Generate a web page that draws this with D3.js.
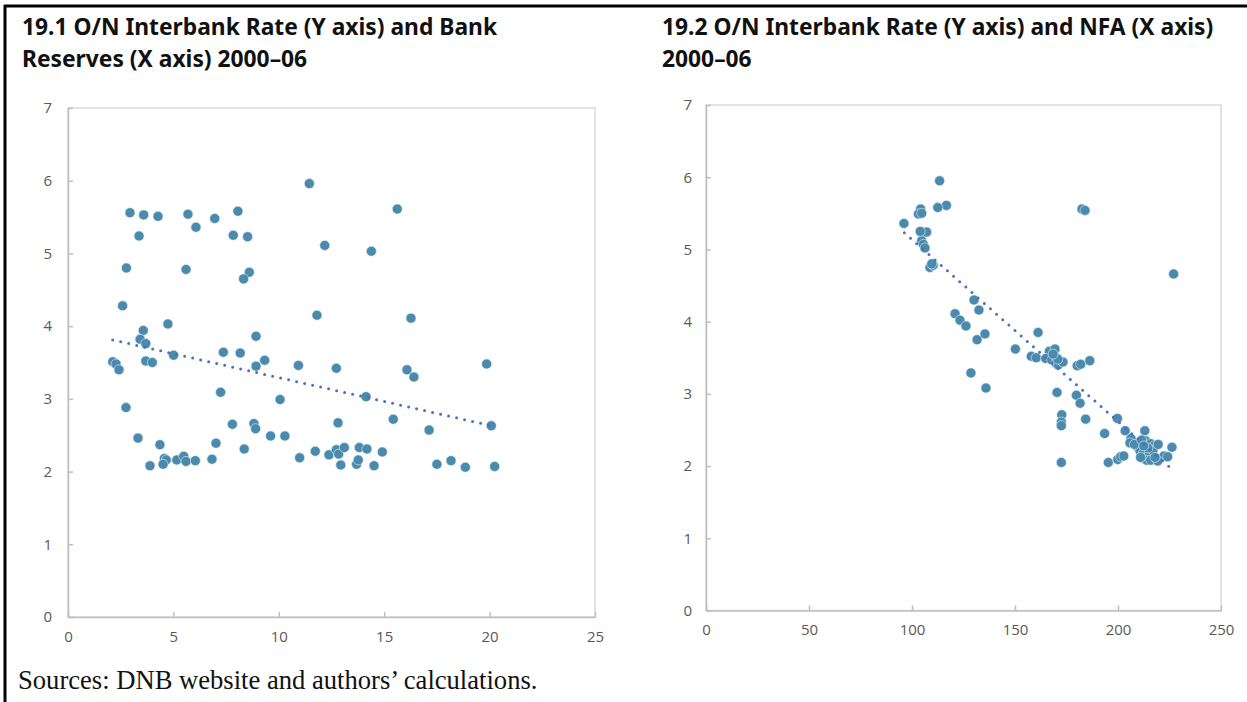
<!DOCTYPE html>
<html lang='en'>
	<head>
		<meta charset="utf-8">
		<title>Figure 19</title>
		<script type="text/javascript" src="https://cdn.jsdelivr.net/npm/d3@7"></script>
		<style>
			body { margin: 0; background: #fff; }
			.tick text { font-family: "Open Sans", sans-serif; font-size: 15px; fill: #595959; }
		</style>
	</head>
	<body>
		<div id="chart"></div>
		<script type="text/javascript">
			// left panel: bank reserves (x) vs O/N rate (y)
			var leftX = [11.45, 2.94, 3.59, 4.27, 5.69, 6.96, 8.06, 6.07, 3.37, 7.84, 8.52, 12.18,
				2.77, 5.60, 8.60, 8.33, 2.59, 11.81, 4.74, 3.57, 3.42, 3.69, 8.92, 5.01, 7.37, 8.17,
				2.12, 2.28, 2.42, 3.69, 4.00, 8.92, 9.33, 10.93, 12.73, 7.24, 2.75, 10.06, 7.80, 8.82,
				8.90, 12.81, 3.32, 9.61, 10.29, 4.36, 7.02, 8.36, 4.57, 4.66, 4.51, 3.89, 5.16, 5.49,
				5.60, 6.04, 6.83, 10.99, 11.73, 12.38, 12.73, 12.84, 13.11, 12.94, 13.82, 13.69, 13.77,
				14.18, 14.91, 14.52, 15.62, 14.39, 16.27, 19.86, 16.08, 16.41, 14.14, 15.43, 20.08,
				17.13, 17.50, 18.17, 18.85, 20.24];
			var leftY = [5.96, 5.56, 5.53, 5.51, 5.54, 5.48, 5.58, 5.36, 5.24, 5.25, 5.23, 5.11,
				4.80, 4.78, 4.74, 4.65, 4.28, 4.15, 4.03, 3.94, 3.82, 3.76, 3.86, 3.60, 3.64, 3.63,
				3.51, 3.48, 3.40, 3.52, 3.50, 3.45, 3.53, 3.46, 3.42, 3.09, 2.88, 2.99, 2.65, 2.66,
				2.59, 2.67, 2.46, 2.49, 2.49, 2.37, 2.39, 2.31, 2.18, 2.16, 2.10, 2.08, 2.16, 2.21,
				2.14, 2.15, 2.17, 2.19, 2.28, 2.23, 2.30, 2.24, 2.33, 2.09, 2.33, 2.10, 2.16,
				2.31, 2.27, 2.08, 5.61, 5.03, 4.11, 3.48, 3.40, 3.30, 3.03, 2.72, 2.63,
				2.57, 2.10, 2.15, 2.06, 2.07];

			// right panel: NFA (x) vs O/N rate (y)
			var rightX = [113.4, 116.7, 112.5, 104.2, 103.1, 104.7, 96.1, 105.0, 107.1, 104.7, 105.5,
				106.3, 108.7, 110.3, 109.6, 120.9, 123.3, 126.2, 130.1, 132.5, 135.4, 131.6, 128.6, 135.9,
				182.5, 184.0, 227.0, 161.2, 150.2, 157.9, 160.3, 166.7, 169.4, 164.9, 167.8, 170.2, 169.9,
				171.0, 173.3, 180.2, 181.9, 186.3, 170.4, 179.8, 181.6, 172.7, 172.5, 172.5, 184.3, 172.5,
				193.5, 199.7, 203.5, 213.0, 206.3, 205.8, 213.4, 215.9, 217.6, 226.2, 209.6, 210.7, 212.3,
				215.2, 222.3, 224.1, 213.9, 215.9, 219.3, 195.3, 199.9, 201.3, 202.8, 208.0, 211.0, 217.0,
				219.5, 214.5, 211.5, 218.0, 104.0, 170.8, 168.5, 212.5];
			var rightY = [5.95, 5.61, 5.58, 5.56, 5.49, 5.50, 5.36, 5.22, 5.24, 5.12, 5.07,
				5.02, 4.75, 4.78, 4.80, 4.11, 4.02, 3.94, 4.30, 4.16, 3.83, 3.75, 3.29, 3.08,
				5.56, 5.54, 4.66, 3.85, 3.62, 3.52, 3.50, 3.59, 3.62, 3.49, 3.47, 3.50, 3.42,
				3.40, 3.44, 3.39, 3.41, 3.46, 3.02, 2.98, 2.87, 2.71, 2.61, 2.56, 2.65, 2.05,
				2.45, 2.66, 2.49, 2.49, 2.38, 2.32, 2.35, 2.31, 2.28, 2.26, 2.26, 2.21, 2.18,
				2.19, 2.14, 2.13, 2.08, 2.08, 2.07, 2.05, 2.09, 2.13, 2.14, 2.30, 2.12, 2.22,
				2.30, 2.25, 2.36, 2.12, 5.25, 3.48, 3.55, 2.28];

			// linear trend end points
			var leftTrendX = [2.12, 20.24];
			var leftTrendY = [3.81, 2.62];
			var rightTrendX = [96.3, 225.7];
			var rightTrendY = [5.23, 1.97];

			var leftXTicks = [0, 5, 10, 15, 20, 25];
			var rightXTicks = [0, 50, 100, 150, 200, 250];
			var yTicks = [0, 1, 2, 3, 4, 5, 6, 7];

			var leftTitle = ["19.1 O/N Interbank Rate (Y axis) and Bank", "Reserves (X axis) 2000\u201306"];
			var rightTitle = ["19.2 O/N Interbank Rate (Y axis) and NFA (X axis)", "2000\u201306"];
			var source = "Sources: DNB website and authors\u2019 calculations.";

			var w = 1247;
			var h = 702;
			var dotColor = "#4a8aad";
			var trendColor = "#4472c4";

			var svg = d3.select("#chart").append("svg").attr("width", w).attr("height", h);

			// page frame (black rules top and left)
			svg.append("line")
				.attr("x1", 4).attr("y1", 6).attr("x2", w).attr("y2", 6)
				.attr("stroke", "black").attr("stroke-width", 3);
			svg.append("line")
				.attr("x1", 5).attr("y1", 5).attr("x2", 5).attr("y2", h)
				.attr("stroke", "black").attr("stroke-width", 3);

			var drawPanel = function(cfg) {
				var xScale = d3.scaleLinear().domain(cfg.xDomain).range(cfg.xRange);
				var yScale = d3.scaleLinear().domain([0, 7]).range(cfg.yRange);
				var g = svg.append("g");

				g.selectAll(".title")
					.data(cfg.title)
					.enter()
					.append("text")
					.attr("x", cfg.titleX)
					.attr("y", function(d, i) { return 35 + i * 32; })
					.attr("font-family", "'Noto Sans', sans-serif")
					.attr("font-weight", "bold")
					.attr("font-size", "22.8px")
					.attr("fill", "#111")
					.text(function(d) { return d; });

				// plot area box
				g.append("rect")
					.attr("x", cfg.xRange[0])
					.attr("y", cfg.yRange[1])
					.attr("width", cfg.xRange[1] - cfg.xRange[0])
					.attr("height", cfg.yRange[0] - cfg.yRange[1])
					.attr("fill", "none")
					.attr("stroke", "#d9d9d9")
					.attr("stroke-width", 1.5);

				var xAxis = d3.axisBottom(xScale).tickValues(cfg.xTicks).tickSizeInner(-5).tickSizeOuter(0).tickPadding(14);
				var yAxis = d3.axisLeft(yScale).tickValues(yTicks).tickFormat(d3.format("d"))
					.tickSizeInner(-5).tickSizeOuter(0).tickPadding(cfg.yPad);

				var gx = g.append("g")
					.attr("transform", "translate(0," + cfg.yRange[0] + ")")
					.call(xAxis);
				var gy = g.append("g")
					.attr("transform", "translate(" + cfg.xRange[0] + ",0)")
					.call(yAxis);
				gx.selectAll("path, line").attr("stroke", "#bfbfbf").attr("stroke-width", 1.5);
				gy.selectAll("path, line").attr("stroke", "#bfbfbf").attr("stroke-width", 1.5);
				gx.selectAll("text").attr("dy", "0.71em");

				g.selectAll(".dot")
					.data(cfg.xs)
					.enter()
					.append("circle")
					.attr("cx", function(d) { return xScale(d); })
					.attr("cy", function(d, i) { return yScale(cfg.ys[i]); })
					.attr("r", 5)
					.attr("fill", dotColor)
					.attr("stroke", "#e8f0f5")
					.attr("stroke-width", 0.6);

				var line = d3.line()
					.x(function(d) { return xScale(d[0]); })
					.y(function(d) { return yScale(d[1]); });

				g.append("path")
					.datum(d3.zip(cfg.trendX, cfg.trendY))
					.attr("d", line)
					.attr("fill", "none")
					.attr("stroke", trendColor)
					.attr("stroke-width", 3)
					.attr("stroke-linecap", "round")
					.attr("stroke-dasharray", "0 8.2");
			};

			drawPanel({
				title: leftTitle, titleX: 22,
				xDomain: [0, 25], xRange: [68, 595], yRange: [617, 108],
				xTicks: leftXTicks, yPad: 16,
				xs: leftX, ys: leftY, trendX: leftTrendX, trendY: leftTrendY
			});

			drawPanel({
				title: rightTitle, titleX: 662,
				xDomain: [0, 250], xRange: [706, 1221], yRange: [610.5, 105],
				xTicks: rightXTicks, yPad: 14,
				xs: rightX, ys: rightY, trendX: rightTrendX, trendY: rightTrendY
			});

			svg.append("text")
				.attr("x", 18)
				.attr("y", 689)
				.attr("font-family", "'Liberation Serif', 'Times New Roman', serif")
				.attr("font-size", "26.6px")
				.attr("fill", "#111")
				.text(source);
		</script>
	</body>
</html>
